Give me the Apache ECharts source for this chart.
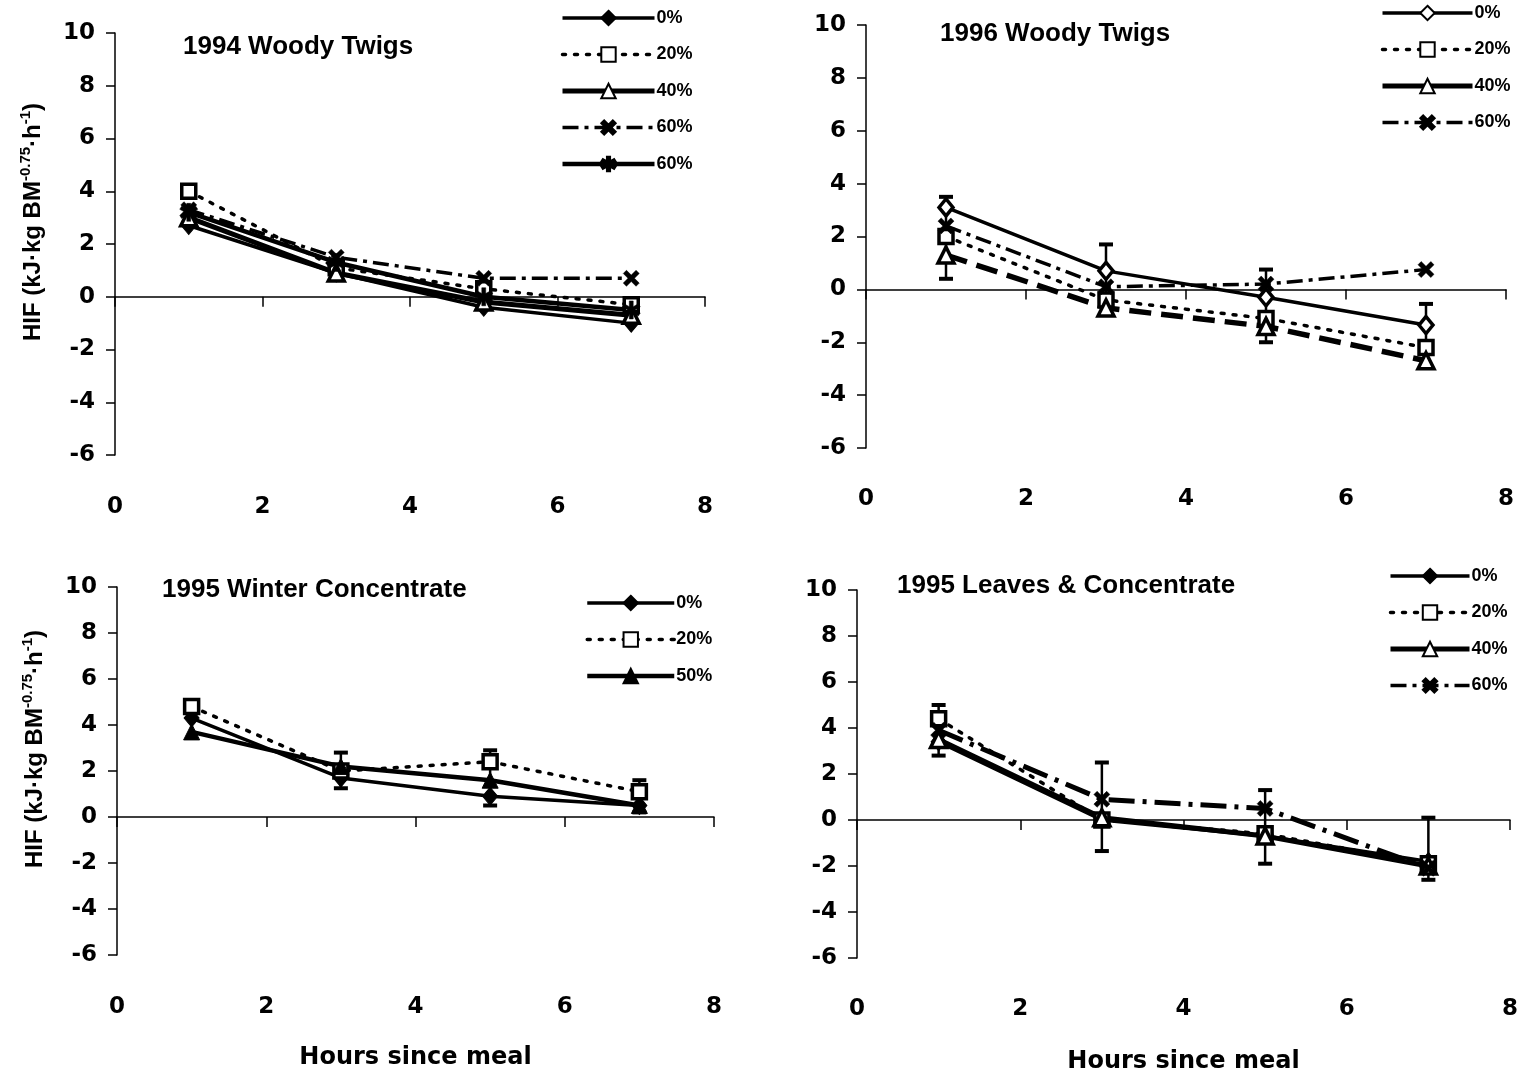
<!DOCTYPE html>
<html>
<head>
<meta charset="utf-8">
<script src="https://cdn.jsdelivr.net/npm/echarts@6/dist/echarts.min.js"></script>
<style>
html,body{margin:0;padding:0;background:#fff;}
#c{width:1524px;height:1075px;}
</style>
</head>
<body>
<div id="c"></div>
<script>
// ---------- data ----------
const hours = [1, 3, 5, 7];
const xTicks = [0, 2, 4, 6, 8];
const yTicks = [-6, -4, -2, 0, 2, 4, 6, 8, 10];

const titles = ['1994 Woody Twigs', '1996 Woody Twigs', '1995 Winter Concentrate', '1995 Leaves & Concentrate'];
const xTitle = 'Hours since meal';

// Panel 1: 1994 Woody Twigs
const p1Names = ['0%', '20%', '40%', '60%', '60%'];
const p1_0 = [2.7, 0.9, -0.4, -1.0];
const p1_20 = [4.0, 1.1, 0.3, -0.3];
const p1_40 = [3.0, 0.9, -0.2, -0.7];
const p1_60a = [3.3, 1.5, 0.7, 0.7];
const p1_60b = [3.2, 1.3, 0.0, -0.5];
const p1Err = [];

// Panel 2: 1996 Woody Twigs
const p2Names = ['0%', '20%', '40%', '60%'];
const p2_0 = [3.1, 0.7, -0.3, -1.35];
const p2_20 = [2.0, -0.4, -1.1, -2.2];
const p2_40 = [1.3, -0.7, -1.4, -2.7];
const p2_60 = [2.4, 0.1, 0.2, 0.75];
const p2Err = [[1, 0.4, 3.5], [3, -0.9, 1.7], [5, -2.0, 0.75], [7, -2.9, -0.55]];

// Panel 3: 1995 Winter Concentrate
const p3Names = ['0%', '20%', '50%'];
const p3_0 = [4.3, 1.7, 0.9, 0.5];
const p3_20 = [4.8, 2.0, 2.4, 1.1];
const p3_50 = [3.7, 2.2, 1.6, 0.5];
const p3Err = [[3, 1.25, 2.8], [5, 0.5, 2.9], [7, 0.2, 1.6]];

// Panel 4: 1995 Leaves & Concentrate
const p4Names = ['0%', '20%', '40%', '60%'];
const p4_0 = [3.4, 0.0, -0.7, -1.8];
const p4_20 = [4.4, 0.0, -0.6, -1.9];
const p4_40 = [3.5, 0.1, -0.7, -2.0];
const p4_60 = [3.9, 0.9, 0.5, -2.1];
const p4Err = [[1, 2.8, 5.0], [3, -1.35, 2.5], [5, -1.9, 1.3], [7, -2.6, 0.1]];

// ---------- styling ----------
const FONT = "'Liberation Sans', Arial, sans-serif";
const WIDE = "'DejaVu Sans', 'Liberation Sans', sans-serif";
const BLACK = '#000';
const X_PATH = 'path://M0,2 L2,0 L5,3 L8,0 L10,2 L7,5 L10,8 L8,10 L5,7 L2,10 L0,8 L3,5 Z';
const AST_PATH = 'path://M4,0 L6,0 L6,3.2 L8.6,1.6 L9.6,3.3 L6.8,5 L9.6,6.7 L8.6,8.4 L6,6.8 L6,10 L4,10 L4,6.8 L1.4,8.4 L0.4,6.7 L3.2,5 L0.4,3.3 L1.4,1.6 L4,3.2 Z';

const grids = [
  {left: 115, top: 33, width: 590, height: 422},
  {left: 866, top: 25, width: 640, height: 423},
  {left: 117, top: 587, width: 597, height: 368},
  {left: 857, top: 590, width: 653, height: 376}
];

const S = {
  diamondFilled: {symbol: 'diamond', symbolSize: [15, 18], itemStyle: {color: BLACK, borderColor: BLACK, borderWidth: 1}},
  diamondOpen: {symbol: 'diamond', symbolSize: [14, 17], itemStyle: {color: '#fff', borderColor: BLACK, borderWidth: 3.5}},
  square: {symbol: 'rect', symbolSize: 14, itemStyle: {color: '#fff', borderColor: BLACK, borderWidth: 3.5}},
  triOpen: {symbol: 'triangle', symbolSize: 16, itemStyle: {color: '#fff', borderColor: BLACK, borderWidth: 3.5}},
  triFilled: {symbol: 'triangle', symbolSize: 16, itemStyle: {color: BLACK, borderColor: BLACK, borderWidth: 1}},
  xMark: {symbol: X_PATH, symbolSize: 16, itemStyle: {color: BLACK, borderColor: BLACK, borderWidth: 0.5}},
  ast: {symbol: AST_PATH, symbolSize: 18, itemStyle: {color: BLACK, borderColor: BLACK, borderWidth: 0.5}}
};
const L = {
  solid: {type: 'solid', width: 3.5, color: BLACK},
  thick: {type: 'solid', width: 5, color: BLACK},
  mid: {type: 'solid', width: 4.5, color: BLACK},
  dotted: {type: [3, 9], width: 3.5, color: BLACK, cap: 'round'},
  dashDot: {type: [16, 6, 4, 6], width: 3.5, color: BLACK},
  thickDash: {type: [22, 10], width: 5.5, color: BLACK},
  thickDashDot: {type: [26, 8, 4, 8], width: 5, color: BLACK}
};

function pts(vals) { return hours.map((h, i) => [h, vals[i]]); }

const series = [];
function addLine(panel, name, vals, sym, ls, legendLs) {
  series.push(Object.assign({
    type: 'line', name: 'p' + panel + '|' + name + '|' + series.length,
    xAxisIndex: panel * 2, yAxisIndex: panel,
    data: pts(vals), lineStyle: ls, showSymbol: true, animation: false, z: 3
  }, sym));
  return {name: series[series.length - 1].name, lineStyle: legendLs || ls};
}
function addErr(panel, errs) {
  if (!errs.length) return;
  series.push({
    type: 'custom', xAxisIndex: panel * 2, yAxisIndex: panel, data: errs, z: 2, animation: false,
    encode: {x: 0, y: [1, 2]},
    renderItem: function (params, api) {
      const x = api.value(0), lo = api.value(1), hi = api.value(2);
      const a = api.coord([x, lo]), b = api.coord([x, hi]);
      const w = 7;
      return {type: 'group', children: [
        {type: 'line', shape: {x1: a[0], y1: a[1], x2: b[0], y2: b[1]}, style: {stroke: BLACK, lineWidth: 2.5}},
        {type: 'line', shape: {x1: a[0] - w, y1: a[1], x2: a[0] + w, y2: a[1]}, style: {stroke: BLACK, lineWidth: 4}},
        {type: 'line', shape: {x1: b[0] - w, y1: b[1], x2: b[0] + w, y2: b[1]}, style: {stroke: BLACK, lineWidth: 4}}
      ]};
    }
  });
}

const leg = [[], [], [], []];
addErr(0, p1Err);
leg[0].push(addLine(0, p1Names[0], p1_0, S.diamondFilled, L.solid));
leg[0].push(addLine(0, p1Names[1], p1_20, S.square, L.dotted));
leg[0].push(addLine(0, p1Names[2], p1_40, S.triOpen, L.thick));
leg[0].push(addLine(0, p1Names[3], p1_60a, S.xMark, L.dashDot));
leg[0].push(addLine(0, p1Names[4], p1_60b, S.ast, L.mid));

addErr(1, p2Err);
leg[1].push(addLine(1, p2Names[0], p2_0, S.diamondOpen, L.solid));
leg[1].push(addLine(1, p2Names[1], p2_20, S.square, L.dotted));
leg[1].push(addLine(1, p2Names[2], p2_40, S.triOpen, L.thickDash, L.thick));
leg[1].push(addLine(1, p2Names[3], p2_60, S.xMark, L.dashDot));

addErr(2, p3Err);
leg[2].push(addLine(2, p3Names[0], p3_0, S.diamondFilled, L.solid));
leg[2].push(addLine(2, p3Names[1], p3_20, S.square, L.dotted));
leg[2].push(addLine(2, p3Names[2], p3_50, S.triFilled, L.mid));

addErr(3, p4Err);
leg[3].push(addLine(3, p4Names[0], p4_0, S.diamondFilled, L.solid));
leg[3].push(addLine(3, p4Names[1], p4_20, S.square, L.dotted));
leg[3].push(addLine(3, p4Names[2], p4_40, S.triOpen, L.thick));
leg[3].push(addLine(3, p4Names[3], p4_60, S.xMark, L.thickDashDot, L.dashDot));

const legPos = [
  {left: 560, top: 9, itemWidth: 92},
  {left: 1380, top: 4, itemWidth: 90},
  {left: 585, top: 594, itemWidth: 87},
  {left: 1388, top: 567, itemWidth: 79}
];

const xAxes = [], yAxes = [];
const labelGaps = [41, 40, 41, 40];
for (let i = 0; i < 4; i++) {
  xAxes.push({
    type: 'value', gridIndex: i, min: xTicks[0], max: xTicks[xTicks.length - 1], interval: 2,
    axisLine: {show: true, onZero: true, lineStyle: {color: BLACK, width: 1.5}},
    axisTick: {show: true, length: 10, lineStyle: {color: BLACK, width: 1.5}},
    axisLabel: {show: false}, splitLine: {show: false}
  });
  xAxes.push({
    type: 'value', gridIndex: i, min: xTicks[0], max: xTicks[xTicks.length - 1], interval: 2, position: 'bottom',
    axisLine: {show: false, onZero: false}, axisTick: {show: false}, splitLine: {show: false},
    axisLabel: {margin: labelGaps[i], fontSize: 23, fontWeight: 'bold', color: BLACK, fontFamily: WIDE},
    name: i >= 2 ? xTitle : '', nameLocation: 'middle', nameGap: i === 2 ? 91 : 92,
    nameTextStyle: {fontSize: 24, fontWeight: 'bold', color: BLACK, fontFamily: WIDE}
  });
  yAxes.push({
    type: 'value', gridIndex: i, min: yTicks[0], max: yTicks[yTicks.length - 1], interval: 2,
    axisLine: {show: true, onZero: false, lineStyle: {color: BLACK, width: 1.5}},
    axisTick: {show: true, length: 9, lineStyle: {color: BLACK, width: 1.5}},
    axisLabel: {margin: 20, fontSize: 23, fontWeight: 'bold', color: BLACK, fontFamily: WIDE},
    splitLine: {show: false},
    name: (i === 0 || i === 2) ? '{a|HIF (kJ·kg BM}{s|-0.75}{a|·h}{s|-1}{a|)}' : '',
    nameLocation: 'middle', nameGap: 67, nameRotate: 90,
    nameTextStyle: {
      color: BLACK, fontFamily: FONT, padding: [0, 0, 0, 44],
      rich: {
        a: {fontSize: 24, fontWeight: 'bold', color: BLACK, fontFamily: FONT, lineHeight: 30},
        s: {fontSize: 15, fontWeight: 'bold', color: BLACK, fontFamily: FONT, verticalAlign: 'top', lineHeight: 30}
      }
    }
  });
}

const titleTops = [[183, 34], [940, 21], [162, 577], [897, 573]];
const option = {
  backgroundColor: '#fff',
  animation: false,
  grid: grids,
  xAxis: xAxes,
  yAxis: yAxes,
  title: titles.map((t, i) => ({
    text: t, left: titleTops[i][0], top: titleTops[i][1], padding: 0,
    textStyle: {fontSize: 26, fontWeight: 'bold', color: BLACK, fontFamily: FONT}
  })),
  legend: leg.map((d, i) => ({
    orient: 'vertical', left: legPos[i].left, top: legPos[i].top,
    itemWidth: legPos[i].itemWidth, itemHeight: 18, itemGap: 18.5, padding: 0,
    selectedMode: false, data: d,
    formatter: n => n.split('|')[1],
    textStyle: {fontSize: 18, fontWeight: 'bold', color: BLACK, fontFamily: FONT, padding: [0, 0, 0, -3]}
  })),
  series: series
};
const chart = echarts.init(document.getElementById('c'), null, {renderer: 'canvas'});
chart.setOption(option);
</script>
</body>
</html>
